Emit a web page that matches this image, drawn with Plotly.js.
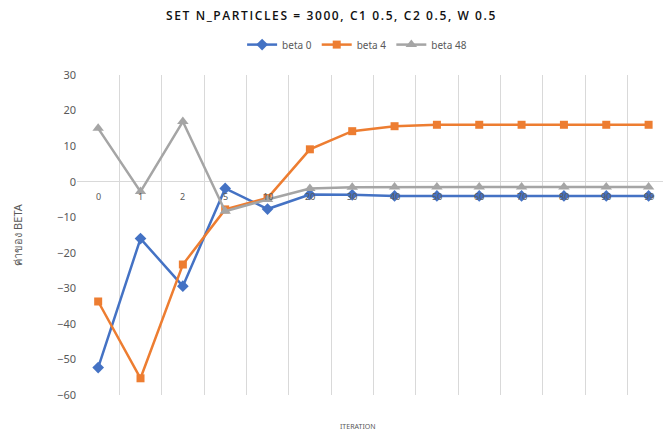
<!DOCTYPE html>
<html>
<head>
<meta charset="utf-8">
<script src="https://cdn.plot.ly/plotly-3.0.1.min.js"></script>
<style>html,body{margin:0;padding:0;background:#fff;}#chart{width:663px;height:432px;}
.gtitle{letter-spacing:1.6px;}</style>
</head>
<body>
<div id="chart"></div>
<script>
const categories = ["0","1","2","5","10","20","30","40","50","60","70","80","90","99"];
const beta0 = [-52.3, -16.0, -29.4, -1.9, -7.7, -3.6, -3.7, -4.0, -4.0, -4.0, -4.0, -4.0, -4.0, -4.0];
const beta4 = [-33.7, -55.3, -23.3, -7.8, -4.6, 9.1, 14.2, 15.6, 16.0, 16.0, 16.0, 16.0, 16.0, 16.0];
const beta48 = [15.0, -2.8, 16.9, -8.3, -5.0, -1.9, -1.6, -1.5, -1.5, -1.5, -1.5, -1.5, -1.5, -1.5];
const seriesNames = ["beta 0", "beta 4", "beta 48"];

const idx = categories.map((c, i) => i);
const gray = "#595959";
const fontFam = "'Noto Sans', 'DejaVu Sans', sans-serif";

const traces = [
  {x: idx, y: beta0, name: seriesNames[0], mode: "lines+markers",
   line: {color: "#4472C4", width: 2.5}, marker: {symbol: "diamond", size: 9, color: "#4472C4"}},
  {x: idx, y: beta4, name: seriesNames[1], mode: "lines+markers",
   line: {color: "#ED7D31", width: 2.5}, marker: {symbol: "square", size: 8, color: "#ED7D31"}},
  {x: idx, y: beta48, name: seriesNames[2], mode: "lines+markers",
   line: {color: "#A5A5A5", width: 2.5}, marker: {symbol: "triangle-up", size: 10, color: "#A5A5A5"}}
];

const annotations = categories.map((c, i) => ({
  x: i, y: 0, xref: "x", yref: "y", text: c, showarrow: false,
  yshift: -15, font: {family: fontFam, size: 9, color: gray}
}));
annotations.push({
  text: "ITERATION", xref: "paper", yref: "paper", x: 0.48, y: -0.12,
  showarrow: false, font: {family: fontFam, size: 7, color: gray}
});

const layout = {
  width: 663, height: 432,
  margin: {l: 77, r: 0, t: 75, b: 37},
  paper_bgcolor: "#fff", plot_bgcolor: "#fff",
  title: {text: "SET N_PARTICLES = 3000, C1 0.5, C2 0.5, W 0.5",
          font: {family: "'Open Sans', sans-serif", size: 12, color: "#111", weight: 600},
          x: 0.5, xanchor: "center", y: 0.963, yanchor: "middle"},
  showlegend: true,
  legend: {orientation: "h", x: 0.478, xanchor: "center", y: 1.095, yanchor: "middle",
           font: {family: fontFam, size: 10, color: gray}, itemwidth: 30, tracegroupgap: 0},
  xaxis: {range: [-0.5, 13.34], showticklabels: false, showgrid: false, zeroline: false,
          tickvals: idx, ticks: "",
          minor: {tick0: 0.5, dtick: 1, showgrid: true, gridcolor: "#D9D9D9", gridwidth: 1, ticks: ""},
          showline: false, fixedrange: true},
  yaxis: {range: [-60, 30], dtick: 10, showgrid: false, zeroline: true, zerolinecolor: "#D9D9D9",
          zerolinewidth: 1, showline: false, ticks: "", ticklen: 0,
          tickfont: {family: fontFam, size: 11, color: gray},
          title: {text: "ค่าของ BETA", font: {family: fontFam, size: 11, color: gray}, standoff: 32}},
  annotations: annotations
};

Plotly.newPlot("chart", traces, layout, {displayModeBar: false, staticPlot: true});
</script>
</body>
</html>
